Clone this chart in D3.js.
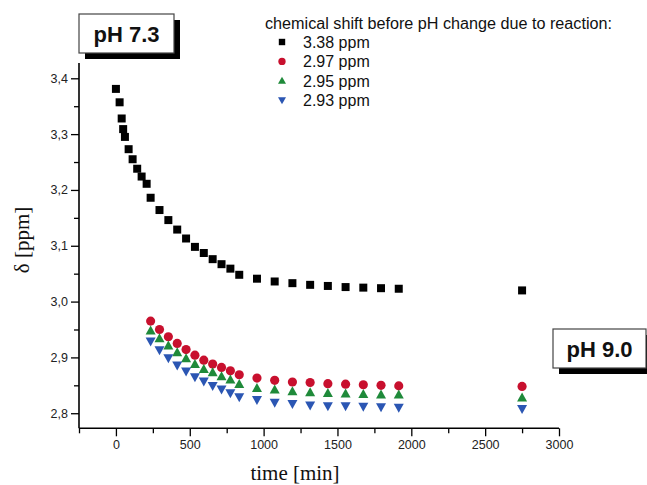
<!DOCTYPE html>
<html>
<head>
<meta charset="utf-8">
<script src="https://cdn.jsdelivr.net/npm/d3@7/dist/d3.min.js"></script>
<style>
  html, body { margin: 0; padding: 0; background: #fff; }
  svg { display: block; }
</style>
</head>
<body>
<svg id="chart" width="647" height="485"></svg>
<script>
// Reaction time points (min)
const timeA = [0, 25, 39, 49, 61, 86, 113, 144, 174, 208, 235, 295, 355, 415, 475, 535, 595, 655, 715, 775, 835, 955, 1075, 1195, 1315, 1435, 1555, 1675, 1795, 1915, 2750];
const timeB = [235, 295, 355, 415, 475, 535, 595, 655, 715, 775, 835, 955, 1075, 1195, 1315, 1435, 1555, 1675, 1795, 1915, 2750];

// Chemical shifts (ppm)
const shift338 = [3.381, 3.357, 3.328, 3.309, 3.295, 3.273, 3.255, 3.238, 3.224, 3.211, 3.186, 3.164, 3.146, 3.129, 3.113, 3.098, 3.087, 3.076, 3.067, 3.059, 3.048, 3.041, 3.036, 3.033, 3.030, 3.028, 3.026, 3.025, 3.024, 3.023, 3.020];
const shift297 = [2.965, 2.950, 2.937, 2.925, 2.914, 2.904, 2.895, 2.888, 2.882, 2.876, 2.869, 2.863, 2.859, 2.856, 2.855, 2.853, 2.852, 2.851, 2.850, 2.849, 2.848];
const shift295 = [2.948, 2.934, 2.921, 2.909, 2.898, 2.888, 2.879, 2.873, 2.866, 2.860, 2.852, 2.845, 2.842, 2.839, 2.837, 2.836, 2.835, 2.834, 2.833, 2.833, 2.828];
const shift293 = [2.929, 2.913, 2.899, 2.886, 2.875, 2.865, 2.857, 2.849, 2.843, 2.836, 2.829, 2.824, 2.819, 2.817, 2.814, 2.813, 2.813, 2.812, 2.811, 2.810, 2.808];

const legendLabels = ["3.38 ppm", "2.97 ppm", "2.95 ppm", "2.93 ppm"];
const xTicks = [0, 500, 1000, 1500, 2000, 2500, 3000];
const yTicks = [2.8, 2.9, 3.0, 3.1, 3.2, 3.3, 3.4];

const series = [
  { label: legendLabels[0], t: timeA, v: shift338, color: "#000000", shape: "square" },
  { label: legendLabels[1], t: timeB, v: shift297, color: "#c8102e", shape: "circle" },
  { label: legendLabels[2], t: timeB, v: shift295, color: "#1f8a3a", shape: "up" },
  { label: legendLabels[3], t: timeB, v: shift293, color: "#2b56b3", shape: "down" }
];

const svg = d3.select("#chart");

const x = d3.scaleLinear().domain([-250, 3000]).range([79, 559]);
const y = d3.scaleLinear().domain([2.773, 3.4274]).range([428.3, 63]);

const fmtComma = d => d3.format(".1f")(d).replace(".", ",");

// Marker path generators
function markerPath(shape) {
  switch (shape) {
    case "square": return d3.symbol().type(d3.symbolSquare).size(64)();
    case "circle": return d3.symbol().type(d3.symbolCircle).size(66)();
    case "up":     return "M0,-5.2L5,3.8L-5,3.8Z";
    case "down":   return "M0,5.2L5,-3.8L-5,-3.8Z";
  }
}

// Axes
const axisFont = "'Liberation Sans', Arial, sans-serif";

const xMinor = d3.range(-250, 3001, 500);
const yMinor = d3.range(2.85, 3.41, 0.1);

const xAxisG = svg.append("g").attr("transform", `translate(0,${y.range()[0]})`);
xAxisG.call(d3.axisBottom(x).tickValues(xTicks).tickSize(8).tickPadding(4).tickFormat(d3.format("d")));
xAxisG.append("g").call(d3.axisBottom(x).tickValues(xMinor).tickSize(5).tickFormat(""))
  .select(".domain").remove();

const yAxisG = svg.append("g").attr("transform", `translate(${x.range()[0]},0)`);
yAxisG.call(d3.axisLeft(y).tickValues(yTicks).tickSize(8).tickPadding(3).tickFormat(fmtComma));
yAxisG.append("g").call(d3.axisLeft(y).tickValues(yMinor).tickSize(5).tickFormat(""))
  .select(".domain").remove();

[xAxisG, yAxisG].forEach(g => {
  g.selectAll(".domain").attr("stroke", "#000").attr("stroke-width", 1.6);
  g.selectAll(".tick line").attr("stroke", "#000").attr("stroke-width", 1.3);
  g.selectAll(".tick text").attr("fill", "#222").style("font-family", axisFont).style("font-size", "12.5px");
});
// Plain axis lines without end caps
xAxisG.select(".domain").attr("d", `M${x.range()[0]},0H${x.range()[1]}`);
yAxisG.select(".domain").attr("d", `M0,${y.range()[0]}V${y.range()[1]}`);

// Axis titles
svg.append("text")
  .attr("x", 295).attr("y", 480)
  .attr("text-anchor", "middle")
  .style("font-family", "'Liberation Serif', 'Times New Roman', serif")
  .style("font-size", "21px")
  .attr("fill", "#111")
  .text("time [min]");

svg.append("text")
  .attr("transform", "translate(29,240) rotate(-90)")
  .attr("text-anchor", "middle")
  .style("font-family", "'Liberation Serif', 'Times New Roman', serif")
  .style("font-size", "21px")
  .attr("fill", "#111")
  .text("δ [ppm]");

// Data points
series.forEach(s => {
  const pts = s.t.map((t, i) => ({ t, v: s.v[i] }));
  svg.append("g").selectAll("path").data(pts).join("path")
    .attr("d", markerPath(s.shape))
    .attr("transform", d => `translate(${x(d.t)},${y(d.v)})`)
    .attr("fill", s.color);
});

// Legend
const legend = svg.append("g");
legend.append("text")
  .attr("x", 265).attr("y", 29)
  .attr("textLength", 347).attr("lengthAdjust", "spacingAndGlyphs")
  .style("font-family", axisFont).style("font-size", "16px").attr("fill", "#111")
  .text("chemical shift before pH change due to reaction:");
series.forEach((s, i) => {
  const cy = 42 + i * 19.4;
  legend.append("path")
    .attr("d", markerPath(s.shape))
    .attr("transform", `translate(282,${cy}) scale(0.8)`)
    .attr("fill", s.color);
  legend.append("text")
    .attr("x", 303).attr("y", cy + 6)
    .style("font-family", axisFont).style("font-size", "16px").attr("fill", "#111")
    .text(s.label);
});

// pH annotation boxes with drop shadow
function phBox(x0, y0, w, h, label) {
  const g = svg.append("g");
  g.append("rect").attr("x", x0 + 6).attr("y", y0 + 6).attr("width", w).attr("height", h).attr("fill", "#000");
  g.append("rect").attr("x", x0).attr("y", y0).attr("width", w).attr("height", h)
    .attr("fill", "#fff").attr("stroke", "#444").attr("stroke-width", 1.2);
  g.append("text")
    .attr("x", x0 + w / 2).attr("y", y0 + h / 2 + 8)
    .attr("text-anchor", "middle")
    .style("font-family", axisFont).style("font-weight", "bold").style("font-size", "22px")
    .attr("fill", "#111")
    .text(label);
}
phBox(79, 14, 95, 39, "pH 7.3");
phBox(553, 329, 93, 39, "pH 9.0");
</script>
</body>
</html>
